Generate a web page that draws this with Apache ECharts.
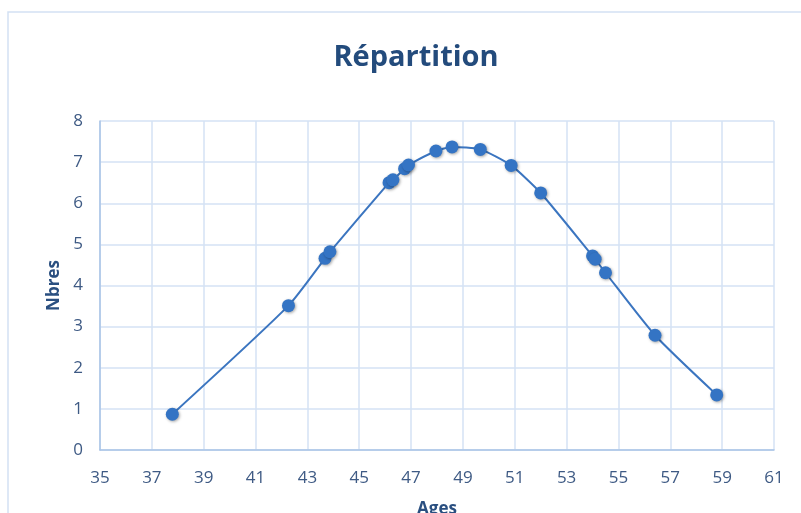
<!DOCTYPE html>
<html>
<head>
<meta charset="utf-8">
<script src="https://cdn.jsdelivr.net/npm/echarts@6/dist/echarts.min.js"></script>
<style>
  html, body { margin: 0; padding: 0; background: #fff; }
  #chart { width: 801px; height: 513px; }
</style>
</head>
<body>
<div id="chart"></div>
<script>
// values
const ages = [37.79, 42.27, 43.68, 43.87, 46.15, 46.3, 46.75, 46.9, 47.96, 48.58, 49.67, 50.86, 52.0, 54.0, 54.1, 54.5, 56.41, 58.79];
const nbres = [0.87, 3.51, 4.66, 4.82, 6.5, 6.57, 6.84, 6.93, 7.27, 7.37, 7.31, 6.92, 6.25, 4.72, 4.64, 4.31, 2.79, 1.34];

const textColor = '#3e5a84';
const gridColor = '#d5e2f4';

const chart = echarts.init(document.getElementById('chart'), null, { renderer: 'canvas' });

chart.setOption({
  backgroundColor: '#fff',
  animation: false,
  title: {
    text: 'Répartition',
    left: 411,
    textAlign: 'center',
    top: 38,
    textStyle: {
      fontFamily: 'Open Sans',
      fontWeight: 'bold',
      fontSize: 29,
      color: '#234b7c'
    }
  },
  graphic: [{
    type: 'rect',
    shape: { x: 8, y: 12, width: 900, height: 600 },
    style: { fill: null, stroke: '#d3e1f3', lineWidth: 1.5 },
    silent: true,
    z: -1
  }],
  grid: { left: 100, right: 27, top: 121, bottom: 63, outerBoundsMode: 'none', containLabel: false },
  xAxis: {
    type: 'value',
    min: 35,
    max: 61,
    interval: 2,
    name: 'Ages',
    nameLocation: 'middle',
    nameGap: 51,
    nameTextStyle: { fontFamily: 'Open Sans', fontWeight: 'bold', fontSize: 17, color: '#2a4f80' },
    axisLine: { show: true, lineStyle: { color: '#a9c3e6', width: 1.5 } },
    axisTick: { show: false },
    axisLabel: { fontFamily: 'Open Sans', fontSize: 17, color: textColor, margin: 20 },
    splitLine: { show: true, lineStyle: { color: gridColor, width: 1.5 } }
  },
  yAxis: {
    type: 'value',
    min: 0,
    max: 8,
    interval: 1,
    name: 'Nbres',
    nameLocation: 'middle',
    nameGap: 35,
    nameTextStyle: { fontFamily: 'Open Sans', fontWeight: 'bold', fontSize: 17, color: '#2a4f80' },
    axisLine: { show: true, lineStyle: { color: '#a9c3e6', width: 1.5 } },
    axisTick: { show: false },
    axisLabel: { fontFamily: 'Open Sans', fontSize: 17, color: textColor, margin: 17 },
    splitLine: { show: true, lineStyle: { color: gridColor, width: 1.5 } }
  },
  series: [{
    type: 'line',
    data: ages.map((a, i) => [a, nbres[i]]),
    smooth: 0.2,
    symbol: 'circle',
    symbolSize: 13,
    lineStyle: { color: '#3b75c0', width: 2 },
    itemStyle: {
      color: '#3474c4',
      shadowColor: 'rgba(0,0,0,0.35)',
      shadowBlur: 3,
      shadowOffsetX: 1,
      shadowOffsetY: 1
    }
  }]
});
</script>
</body>
</html>
